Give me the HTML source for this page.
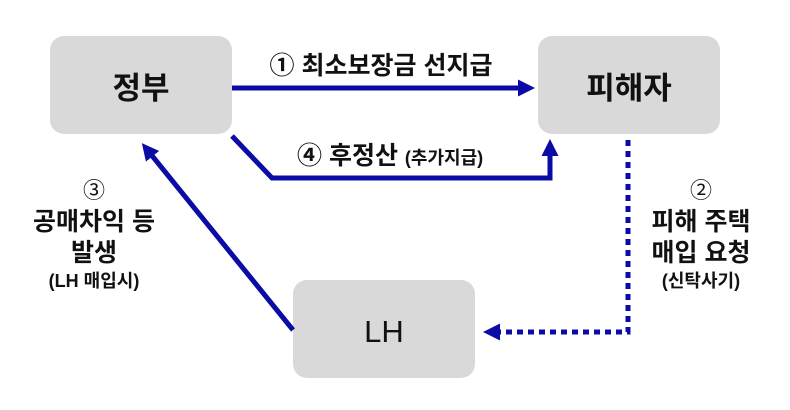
<!DOCTYPE html>
<html><head><meta charset="utf-8"><style>
html,body{margin:0;padding:0;background:#fff;}
svg{display:block;}
text{font-family:"Liberation Sans","Noto Sans CJK KR",sans-serif;fill:#111;}
</style></head><body>
<svg width="790" height="410" viewBox="0 0 790 410">
<defs>
<marker id="ah" markerWidth="3.4" markerHeight="3.4" refX="2.4" refY="1.7" orient="auto" markerUnits="strokeWidth"><path d="M0,0 L3.4,1.7 L0,3.4 z" fill="#0b0ba5"/></marker>
<marker id="ah2" markerWidth="3.4" markerHeight="3.4" refX="2.4" refY="1.7" orient="auto" markerUnits="strokeWidth"><path d="M0,0 L3.4,1.7 L0,3.4 z" fill="#0b0ba5"/></marker>
</defs>
<rect x="50" y="36" width="182" height="98" rx="14" fill="#d9d9d9"/>
<rect x="538" y="36" width="182" height="98" rx="14" fill="#d9d9d9"/>
<rect x="293" y="280" width="182" height="98" rx="14" fill="#d9d9d9"/>
<text x="141" y="99" font-size="31" font-weight="bold" text-anchor="middle">정부</text>
<text x="629" y="99" font-size="31" font-weight="bold" text-anchor="middle">피해자</text>
<text x="384" y="342" font-size="31" text-anchor="middle">LH</text>
<g stroke="#0b0ba5" fill="none" stroke-width="5">
<line x1="232" y1="88" x2="530" y2="88" marker-end="url(#ah)"/>
<polyline points="232,136 272,178 550,178 550,144" marker-end="url(#ah)"/>
<line x1="293" y1="330" x2="145" y2="147" marker-end="url(#ah)"/>
<polyline points="628,140 628,332 488,332" stroke-dasharray="6,5" marker-end="url(#ah2)"/>
</g>
<text x="381" y="74" font-size="25" font-weight="bold" text-anchor="middle">① 최소보장금 선지급</text>
<text x="297" y="164" font-size="25" font-weight="bold">④ 후정산 <tspan font-size="18">(추가지급)</tspan></text>
<text x="701" y="198" font-size="22" text-anchor="middle">②</text>
<text x="701" y="230" font-size="25" font-weight="bold" text-anchor="middle">피해 주택</text>
<text x="701" y="261" font-size="25" font-weight="bold" text-anchor="middle">매입 요청</text>
<text x="701" y="287" font-size="18" font-weight="bold" text-anchor="middle">(신탁사기)</text>
<text x="94" y="198" font-size="22" text-anchor="middle">③</text>
<text x="94" y="230" font-size="25" font-weight="bold" text-anchor="middle">공매차익 등</text>
<text x="94" y="261" font-size="25" font-weight="bold" text-anchor="middle">발생</text>
<text x="94" y="287" font-size="18" font-weight="bold" text-anchor="middle">(LH 매입시)</text>
</svg>
</body></html>
